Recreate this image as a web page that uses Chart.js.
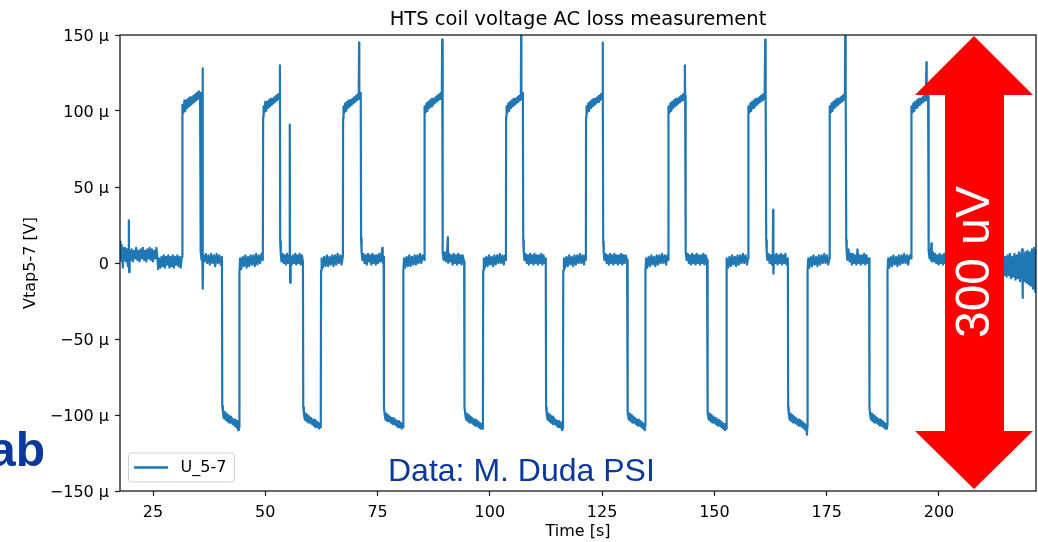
<!DOCTYPE html>
<html><head><meta charset="utf-8">
<script src="https://cdn.jsdelivr.net/npm/chart.js@4.4.1/dist/chart.umd.min.js"></script>
<style>html,body{margin:0;padding:0;background:#fff;overflow:hidden}#wrap{width:1038px;height:542px;position:relative}</style>
</head><body><div id="wrap"><canvas id="c" width="1038" height="542"></canvas></div>
<script>
const chartTitle = 'HTS coil voltage AC loss measurement';
const xLabel = 'Time [s]';
const yLabel = 'Vtap5-7 [V]';
const seriesName = 'U_5-7';
const xTicks = [25, 50, 75, 100, 125, 150, 175, 200];
const yTicks = [-150, -100, -50, 0, 50, 100, 150];
const yTickLabels = ['\u2212150 \u00b5', '\u2212100 \u00b5', '\u221250 \u00b5', '0', '50 \u00b5', '100 \u00b5', '150 \u00b5'];
const xRange = [17.65, 221.6];
const yRange = [-150, 150];
const arrowLabel = '300 uV';
const creditText = 'Data: M. Duda PSI';
const logoText = 'ab';

// time [s], voltage [µV]
const segLead = [[17.65,6],[17.72,14],[17.8,3],[17.9,12],[18.0,1],[18.15,10],[18.3,-3],[18.45,9],[18.6,2],[18.8,10],[19.0,1],[19.2,9],[19.4,-2],[19.55,7],[19.62,28],[19.68,-6],[19.8,8],[20.0,2],[20.25,9],[20.5,1],[20.75,8],[21.0,3],[21.25,10],[21.5,2],[21.75,8],[22.0,1],[22.25,9],[22.5,3],[22.75,10],[23.0,2],[23.25,8],[23.5,1],[23.75,9],[24.0,3],[24.25,10],[24.5,2],[24.75,9],[25.0,1],[25.25,8],[25.5,3],[25.75,10],[26.0,2],[26.15,-4],[26.4,3],[26.65,-3],[26.9,4],[27.15,-2],[27.4,5],[27.65,-3],[27.9,4],[28.15,-1],[28.4,5],[28.65,-3],[28.9,4],[29.15,-2],[29.4,5],[29.65,-3],[29.9,4],[30.15,-1],[30.4,5],[30.65,-2],[30.9,4],[31.15,-3],[31.42,4]];
const cycle01 = [[31.46,4],[31.5,96],[31.6,104],[31.8,99],[32.0,107],[32.2,100],[32.4,107],[32.6,102],[32.8,108],[33.0,103],[33.2,109],[33.4,104],[33.6,109],[33.8,105],[34.0,110],[34.2,106],[34.4,111],[34.6,107],[34.8,112],[35.0,108],[35.2,113],[35.4,109],[35.48,112],[35.56,15],[35.68,7],[35.82,2],[35.98,6],[36.04,128],[36.1,-17],[36.18,5],[36.45,1],[36.75,6],[37.05,0],[37.35,5],[37.65,-1],[37.95,6],[38.25,0],[38.55,5],[38.85,-2],[39.15,6],[39.45,0],[39.75,5],[40.05,-1],[40.35,4],[40.42,-94],[40.55,-98],[40.75,-102],[40.95,-98],[41.15,-103],[41.35,-99],[41.55,-104],[41.75,-100],[41.95,-105],[42.15,-101],[42.35,-105],[42.55,-102],[42.75,-106],[42.95,-103],[43.15,-107],[43.35,-103],[43.55,-108],[43.75,-104],[43.95,-110],[44.1,-105],[44.18,-108],[44.24,-6],[44.4,3],[44.65,-4],[44.95,4],[45.25,-2],[45.55,5],[45.85,-3],[46.15,4],[46.45,-2],[46.75,5],[47.05,-1],[47.35,5],[47.65,-2],[47.95,6],[48.25,-1],[48.55,5],[48.85,0],[49.15,6],[49.45,2]];
const cycle02 = [[49.52,96],[49.62,103],[49.8,99],[50.0,106],[50.2,100],[50.4,106],[50.6,102],[50.8,107],[51.0,103],[51.2,108],[51.4,104],[51.6,108],[51.8,105],[52.0,109],[52.2,106],[52.4,110],[52.6,107],[52.8,111],[53.0,108],[53.2,112],[53.26,130],[53.32,14],[53.45,6],[53.6,1],[53.85,6],[54.1,0],[54.35,5],[54.6,-1],[54.85,6],[55.1,0],[55.35,5],[55.45,91],[55.52,-13],[55.65,4],[55.9,-1],[56.15,5],[56.4,0],[56.65,6],[56.9,-1],[57.15,5],[57.4,0],[57.65,6],[57.9,-1],[58.15,5],[58.38,1],[58.45,-95],[58.6,-99],[58.8,-103],[59.0,-99],[59.2,-104],[59.4,-100],[59.6,-105],[59.8,-101],[60.0,-105],[60.2,-102],[60.4,-106],[60.6,-103],[60.8,-107],[61.0,-103],[61.2,-108],[61.4,-104],[61.6,-108],[61.8,-105],[62.0,-109],[62.2,-106],[62.35,-108],[62.42,-5],[62.55,3],[62.8,-3],[63.1,4],[63.4,-2],[63.7,5],[64.0,-2],[64.3,4],[64.6,-1],[64.9,5],[65.2,-2],[65.5,5],[65.8,-1],[66.1,6],[66.4,0],[66.7,5],[67.0,-1],[67.28,5]];
const cycle03 = [[67.32,95],[67.42,103],[67.6,99],[67.8,105],[68.0,100],[68.2,106],[68.4,102],[68.6,107],[68.8,103],[69.0,107],[69.2,104],[69.4,108],[69.6,105],[69.8,109],[70.0,106],[70.2,110],[70.4,107],[70.6,111],[70.8,108],[70.88,145],[70.93,108],[71.1,112],[71.25,110],[71.33,16],[71.45,7],[71.6,2],[71.85,6],[72.1,0],[72.35,5],[72.6,-1],[72.85,6],[73.1,1],[73.35,5],[73.6,-1],[73.85,6],[74.1,0],[74.35,5],[74.6,-1],[74.85,5],[75.1,0],[75.35,6],[75.6,1],[75.85,5],[76.05,10],[76.15,0],[76.35,4],[76.42,-95],[76.55,-99],[76.75,-103],[76.95,-99],[77.15,-104],[77.35,-100],[77.55,-104],[77.75,-101],[77.95,-105],[78.15,-102],[78.35,-106],[78.55,-102],[78.75,-106],[78.95,-103],[79.15,-107],[79.35,-104],[79.55,-108],[79.75,-104],[79.95,-108],[80.15,-105],[80.35,-109],[80.55,-106],[80.68,-108],[80.74,-5],[80.9,3],[81.15,-3],[81.45,4],[81.75,-2],[82.05,5],[82.35,-2],[82.65,4],[82.95,-1],[83.25,5],[83.55,-1],[83.85,5],[84.15,0],[84.45,6],[84.75,0],[85.05,5],[85.38,2]];
const cycle04 = [[85.42,96],[85.52,103],[85.7,99],[85.9,105],[86.1,100],[86.3,106],[86.5,102],[86.7,107],[86.9,103],[87.1,108],[87.3,104],[87.5,108],[87.7,105],[87.9,109],[88.1,106],[88.3,110],[88.5,107],[88.7,111],[88.9,108],[89.1,112],[89.3,109],[89.38,147],[89.44,14],[89.55,7],[89.7,2],[89.95,7],[90.2,1],[90.45,6],[90.65,17],[90.72,0],[90.95,6],[91.2,1],[91.45,5],[91.7,-1],[91.95,6],[92.2,0],[92.45,5],[92.7,-1],[92.95,6],[93.2,0],[93.45,5],[93.7,-1],[93.95,5],[94.28,1],[94.35,-95],[94.5,-99],[94.7,-103],[94.9,-99],[95.1,-104],[95.3,-100],[95.5,-105],[95.7,-101],[95.9,-105],[96.1,-102],[96.3,-106],[96.5,-103],[96.7,-107],[96.9,-103],[97.1,-107],[97.3,-104],[97.5,-108],[97.7,-105],[97.9,-109],[98.1,-106],[98.3,-109],[98.45,-107],[98.52,-5],[98.65,3],[98.9,-3],[99.2,4],[99.5,-2],[99.8,5],[100.1,-1],[100.4,4],[100.7,-2],[101.0,5],[101.3,-1],[101.6,5],[101.9,0],[102.2,6],[102.5,0],[102.8,5],[103.1,-1],[103.4,5],[103.58,2]];
const cycle05 = [[103.62,96],[103.72,103],[103.9,99],[104.1,105],[104.3,100],[104.5,106],[104.7,102],[104.9,107],[105.1,103],[105.3,108],[105.5,104],[105.7,108],[105.9,105],[106.1,109],[106.3,106],[106.5,110],[106.7,107],[106.9,111],[106.97,158],[107.02,108],[107.2,112],[107.35,110],[107.43,15],[107.55,7],[107.7,2],[107.95,6],[108.2,0],[108.45,5],[108.7,-1],[108.95,6],[109.2,0],[109.45,5],[109.7,-1],[109.95,6],[110.2,0],[110.45,5],[110.7,-1],[110.95,5],[111.2,0],[111.45,6],[111.7,-1],[111.95,5],[112.2,0],[112.45,3],[112.52,-95],[112.65,-99],[112.85,-103],[113.05,-99],[113.25,-104],[113.45,-100],[113.65,-105],[113.85,-101],[114.05,-106],[114.25,-102],[114.45,-106],[114.65,-103],[114.85,-107],[115.05,-104],[115.25,-108],[115.45,-104],[115.65,-108],[115.85,-105],[116.05,-110],[116.2,-106],[116.28,-109],[116.34,-5],[116.5,3],[116.75,-3],[117.05,4],[117.35,-2],[117.65,5],[117.95,-1],[118.25,4],[118.55,-2],[118.85,5],[119.15,-1],[119.45,5],[119.75,0],[120.05,6],[120.35,0],[120.65,5],[120.95,-1],[121.2,5],[121.38,2]];
const cycle06 = [[121.42,96],[121.52,103],[121.7,99],[121.9,105],[122.1,100],[122.3,106],[122.5,102],[122.7,107],[122.9,103],[123.1,108],[123.3,104],[123.5,108],[123.7,105],[123.9,109],[124.1,106],[124.3,110],[124.5,107],[124.7,111],[124.9,108],[125.05,112],[125.12,145],[125.18,110],[125.24,14],[125.35,7],[125.5,2],[125.75,6],[126.0,0],[126.25,5],[126.5,-1],[126.75,6],[127.0,0],[127.25,5],[127.5,-1],[127.75,6],[128.0,0],[128.25,5],[128.5,-1],[128.75,5],[129.0,0],[129.25,6],[129.5,-1],[129.75,5],[130.0,0],[130.25,5],[130.55,2],[130.62,-95],[130.75,-99],[130.95,-103],[131.15,-99],[131.35,-104],[131.55,-100],[131.75,-105],[131.95,-101],[132.15,-105],[132.35,-102],[132.55,-106],[132.75,-103],[132.95,-107],[133.15,-103],[133.35,-107],[133.55,-104],[133.75,-108],[133.95,-105],[134.15,-109],[134.35,-106],[134.5,-110],[134.58,-107],[134.64,-5],[134.8,3],[135.05,-3],[135.35,4],[135.65,-2],[135.95,5],[136.25,-1],[136.55,4],[136.85,-2],[137.15,5],[137.45,-1],[137.75,5],[138.05,0],[138.35,6],[138.65,0],[138.95,5],[139.25,-1],[139.5,5],[139.68,2]];
const cycle07 = [[139.72,96],[139.82,103],[140.0,99],[140.2,105],[140.4,100],[140.6,106],[140.8,102],[141.0,107],[141.2,103],[141.4,108],[141.6,104],[141.8,108],[142.0,105],[142.2,109],[142.4,106],[142.6,110],[142.8,107],[143.0,111],[143.2,108],[143.35,112],[143.42,130],[143.48,110],[143.54,14],[143.65,7],[143.8,2],[144.05,6],[144.3,0],[144.55,5],[144.8,-1],[145.05,6],[145.3,0],[145.55,5],[145.8,-1],[146.05,6],[146.3,0],[146.55,5],[146.8,-1],[147.05,5],[147.3,0],[147.55,6],[147.8,-1],[148.05,5],[148.35,2],[148.42,-95],[148.55,-99],[148.75,-103],[148.95,-99],[149.15,-104],[149.35,-100],[149.55,-105],[149.75,-101],[149.95,-105],[150.15,-102],[150.35,-106],[150.55,-103],[150.75,-107],[150.95,-103],[151.15,-107],[151.35,-104],[151.55,-108],[151.75,-105],[151.95,-109],[152.15,-106],[152.35,-110],[152.5,-107],[152.58,-109],[152.64,-5],[152.8,3],[153.05,-3],[153.35,4],[153.65,-2],[153.95,5],[154.25,-1],[154.55,4],[154.85,-2],[155.15,5],[155.45,-1],[155.75,5],[156.05,0],[156.35,6],[156.65,0],[156.95,5],[157.25,-1],[157.48,3]];
const cycle08 = [[157.52,96],[157.62,103],[157.8,99],[158.0,105],[158.2,100],[158.4,106],[158.6,102],[158.8,107],[159.0,103],[159.2,108],[159.4,104],[159.6,108],[159.8,105],[160.0,109],[160.2,106],[160.4,110],[160.6,107],[160.8,111],[161.0,108],[161.2,112],[161.3,147],[161.36,109],[161.45,112],[161.53,15],[161.65,7],[161.8,2],[162.05,6],[162.3,0],[162.55,5],[162.8,-1],[163.0,5],[163.07,35],[163.13,-7],[163.3,5],[163.55,0],[163.8,6],[164.05,-1],[164.3,5],[164.55,0],[164.8,6],[165.05,-1],[165.3,5],[165.55,0],[165.8,6],[166.05,-1],[166.35,3],[166.42,-95],[166.55,-99],[166.75,-103],[166.95,-99],[167.15,-104],[167.35,-100],[167.55,-105],[167.75,-101],[167.95,-105],[168.15,-102],[168.35,-106],[168.55,-103],[168.75,-107],[168.95,-103],[169.15,-107],[169.35,-104],[169.55,-108],[169.75,-105],[169.95,-109],[170.15,-106],[170.35,-110],[170.5,-107],[170.6,-113],[170.68,-108],[170.74,-5],[170.9,3],[171.15,-3],[171.45,4],[171.75,-2],[172.05,5],[172.35,-1],[172.65,4],[172.95,-2],[173.25,5],[173.55,-1],[173.85,5],[174.15,0],[174.45,6],[174.75,0],[175.05,5],[175.35,-1],[175.58,3]];
const cycle09 = [[175.62,96],[175.72,103],[175.9,99],[176.1,105],[176.3,100],[176.5,106],[176.7,102],[176.9,107],[177.1,103],[177.3,108],[177.5,104],[177.7,108],[177.9,105],[178.1,109],[178.3,106],[178.5,110],[178.7,107],[178.9,111],[179.05,108],[179.12,158],[179.18,109],[179.28,112],[179.35,15],[179.45,7],[179.6,2],[179.85,9],[180.1,1],[180.35,6],[180.6,-1],[180.85,6],[181.1,0],[181.35,5],[181.6,-1],[181.85,9],[182.1,0],[182.35,5],[182.6,-1],[182.85,5],[183.1,0],[183.35,6],[183.6,-1],[183.85,5],[184.1,0],[184.45,3],[184.52,-95],[184.65,-99],[184.85,-103],[185.05,-99],[185.25,-104],[185.45,-100],[185.65,-105],[185.85,-101],[186.05,-105],[186.25,-102],[186.45,-106],[186.65,-103],[186.85,-107],[187.05,-103],[187.25,-107],[187.45,-104],[187.65,-108],[187.85,-105],[188.05,-109],[188.25,-106],[188.4,-109],[188.48,-107],[188.54,-5],[188.7,3],[188.95,-3],[189.25,4],[189.55,-2],[189.85,5],[190.15,-1],[190.45,4],[190.75,-2],[191.05,5],[191.35,-1],[191.65,5],[191.95,0],[192.25,6],[192.55,0],[192.85,5],[193.15,-1],[193.45,5],[193.78,3]];
const cycle10 = [[193.82,96],[193.92,103],[194.1,99],[194.3,105],[194.5,100],[194.7,106],[194.9,102],[195.1,107],[195.3,103],[195.5,108],[195.7,104],[195.9,108],[196.1,105],[196.3,109],[196.5,106],[196.7,110],[196.9,107],[197.1,111],[197.2,132],[197.26,108],[197.45,112],[197.58,110],[197.65,16],[197.75,8],[197.9,3],[198.1,9],[198.2,2],[198.3,13],[198.4,1],[198.65,7],[198.9,1],[199.15,6],[199.4,0],[199.65,5],[199.9,-1],[200.15,6],[200.4,0],[200.65,5],[200.9,-1],[201.15,6],[201.4,0],[201.65,5]];
const segTail = [[202.0,-1],[202.4,5],[202.8,-1],[203.2,5],[203.6,-2],[204.0,5],[204.4,-2],[204.8,4],[205.2,-2],[205.6,5],[206.0,-3],[206.4,4],[206.8,-3],[207.2,5],[207.6,-3],[208.0,4],[208.4,-4],[208.8,5],[209.2,-4],[209.6,4],[210.0,-5],[210.4,5],[210.8,-5],[211.2,4],[211.6,-6],[212.0,5],[212.4,-6],[212.8,5],[213.2,-7],[213.6,4],[214.0,-7],[214.3,5],[214.55,-8],[214.8,4],[215.05,-9],[215.3,5],[215.55,-8],[215.8,6],[216.05,-10],[216.3,4],[216.55,-9],[216.8,6],[217.05,-11],[217.3,5],[217.55,-10],[217.8,7],[218.05,-12],[218.3,5],[218.5,9],[218.6,-23],[218.7,6],[218.95,-12],[219.2,7],[219.45,-13],[219.7,8],[219.95,-14],[220.2,7],[220.45,-15],[220.7,9],[220.95,-17],[221.2,10],[221.45,-19],[221.7,9]];

const seriesPoints = [].concat(segLead, cycle01, cycle02, cycle03, cycle04, cycle05, cycle06, cycle07, cycle08, cycle09, cycle10, segTail).map(([x, y]) => ({x, y}));

const LINE_COLOR = '#1f77b4';
const AXIS_FONT = "'DejaVu Sans', sans-serif";
Chart.defaults.font.family = AXIS_FONT;
Chart.defaults.color = '#000';

const overlayPlugin = {
  id: 'overlay',
  afterDatasetsDraw(chart) {
    const {ctx, chartArea: a} = chart;
    ctx.save();
    // spines
    ctx.strokeStyle = '#1a1a1a';
    ctx.lineWidth = 1.3;
    ctx.strokeRect(a.left, a.top, a.right - a.left, a.bottom - a.top);
    // title
    ctx.fillStyle = '#000';
    ctx.font = "19.5px " + AXIS_FONT;
    ctx.textAlign = 'center';
    ctx.textBaseline = 'alphabetic';
    ctx.fillText(chartTitle, (a.left + a.right) / 2, 25);
    // legend box
    const lx = a.left + 8.5, ly = a.bottom - 38, lw = 106, lh = 29;
    ctx.beginPath();
    ctx.roundRect(lx, ly, lw, lh, 3);
    ctx.fillStyle = 'rgba(255,255,255,0.8)';
    ctx.fill();
    ctx.strokeStyle = '#d0d0d0';
    ctx.lineWidth = 1;
    ctx.stroke();
    ctx.beginPath();
    ctx.moveTo(lx + 5.5, ly + 14.5);
    ctx.lineTo(lx + 39.5, ly + 14.5);
    ctx.strokeStyle = LINE_COLOR;
    ctx.lineWidth = 2.3;
    ctx.stroke();
    ctx.fillStyle = '#000';
    ctx.font = "16px " + AXIS_FONT;
    ctx.textAlign = 'left';
    ctx.textBaseline = 'middle';
    ctx.fillText(seriesName, lx + 52, ly + 15);
    ctx.restore();
  },
  afterDraw(chart) {
    const {ctx} = chart;
    ctx.save();
    // red double arrow annotation
    ctx.fillStyle = '#ff0000';
    ctx.beginPath();
    ctx.moveTo(974, 36);
    ctx.lineTo(1033, 95);
    ctx.lineTo(1004, 95);
    ctx.lineTo(1004, 431);
    ctx.lineTo(1033, 431);
    ctx.lineTo(974, 489);
    ctx.lineTo(915, 431);
    ctx.lineTo(945, 431);
    ctx.lineTo(945, 95);
    ctx.lineTo(915, 95);
    ctx.closePath();
    ctx.fill();
    // arrow text
    ctx.translate(976, 262);
    ctx.rotate(-Math.PI / 2);
    ctx.fillStyle = '#ffffff';
    ctx.font = "48px 'Liberation Sans', Arial, sans-serif";
    ctx.textAlign = 'center';
    ctx.textBaseline = 'middle';
    ctx.fillText(arrowLabel, 0, 0);
    ctx.setTransform(1, 0, 0, 1, 0, 0);
    // credit text
    ctx.fillStyle = '#0a389c';
    ctx.font = "32px 'Liberation Sans', Arial, sans-serif";
    ctx.textAlign = 'left';
    ctx.textBaseline = 'alphabetic';
    ctx.fillText(creditText, 388, 481);
    // cut-off logo text
    ctx.font = "bold 48px 'Liberation Sans', Arial, sans-serif";
    ctx.textAlign = 'right';
    ctx.fillText(logoText, 45, 466);
    ctx.restore();
  }
};

new Chart(document.getElementById('c'), {
  type: 'line',
  data: {
    datasets: [{
      label: seriesName,
      data: seriesPoints,
      borderColor: LINE_COLOR,
      borderWidth: 2.2,
      pointRadius: 0,
      tension: 0,
      fill: false,
      borderJoinStyle: 'round',
      borderCapStyle: 'butt'
    }]
  },
  options: {
    responsive: false,
    animation: false,
    events: [],
    layout: {padding: {top: 35, right: 2, left: 0, bottom: 0}},
    plugins: {legend: {display: false}, title: {display: false}, tooltip: {enabled: false}},
    scales: {
      x: {
        type: 'linear',
        min: xRange[0],
        max: xRange[1],
        afterFit(s) { s.height = 51; },
        afterBuildTicks(s) { s.ticks = xTicks.map(v => ({value: v})); },
        grid: {drawOnChartArea: false, drawTicks: true, tickLength: 5, color: '#1a1a1a', tickWidth: 1.2},
        border: {display: false},
        ticks: {color: '#000', font: {size: 16}, padding: 7, maxRotation: 0, autoSkip: false, callback: v => String(v)},
        title: {display: true, text: xLabel, color: '#000', font: {size: 16}, padding: {top: 0, bottom: 0.5}}
      },
      y: {
        type: 'linear',
        min: yRange[0],
        max: yRange[1],
        afterFit(s) { s.width = 120; },
        afterBuildTicks(s) { s.ticks = yTicks.map(v => ({value: v})); },
        grid: {drawOnChartArea: false, drawTicks: true, tickLength: 5, color: '#1a1a1a', tickWidth: 1.2},
        border: {display: false},
        ticks: {color: '#000', font: {size: 16}, padding: 6, labelOffset: 1.5, autoSkip: false, callback: v => yTickLabels[yTicks.indexOf(v)]},
        title: {display: true, text: yLabel, color: '#000', font: {size: 16}, padding: {top: 21.5, bottom: 0}}
      }
    }
  },
  plugins: [overlayPlugin]
});
</script>
</body></html>
